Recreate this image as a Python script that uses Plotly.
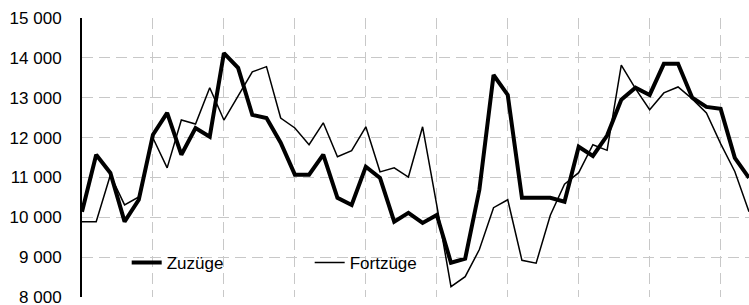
import plotly.graph_objects as go

# Data (48 periods)
periods = list(range(48))
zuzuege = [10140, 11570, 11110, 9890, 10440, 12070, 12620, 11570, 12240, 12020,
           14120, 13750, 12570, 12490, 11870, 11070, 11070, 11570, 10490, 10310,
           11270, 10990, 9890, 10110, 9860, 10060, 8860, 8960, 10690, 13570,
           13070, 10490, 10490, 10490, 10390, 11770, 11540, 12050, 12950, 13250,
           13070, 13850, 13850, 13000, 12770, 12720, 11490, 10990]
fortzuege = [9890, 9890, 11060, 10310, 10510, 11990, 11240, 12440, 12340, 13250,
             12440, 13050, 13650, 13780, 12490, 12240, 11820, 12370, 11520, 11670,
             12270, 11140, 11240, 11010, 12270, 10300, 8260, 8510, 9190, 10240,
             10440, 8920, 8850, 10050, 10830, 11120, 11820, 11680, 13820, 13230,
             12700, 13120, 13270, 12970, 12620, 11850, 11150, 10140]
y_tickvals = [8000, 9000, 10000, 11000, 12000, 13000, 14000, 15000]
y_ticktext = ["8 000", "9 000", "10 000", "11 000", "12 000", "13 000", "14 000", "15 000"]
x_gridvals = [5, 10, 15, 20, 25, 30, 35, 40, 45]

FONT = "Liberation Sans, Arial, sans-serif"

fig = go.Figure()
fig.add_trace(go.Scatter(x=periods, y=zuzuege, mode="lines", name="Zuzüge",
                         line=dict(color="#000000", width=4)))
fig.add_trace(go.Scatter(x=periods, y=fortzuege, mode="lines", name="Fortzüge",
                         line=dict(color="#000000", width=1.5)))

fig.update_layout(
    width=749, height=305,
    margin=dict(l=82, r=0, t=18, b=8, autoexpand=False),
    paper_bgcolor="white", plot_bgcolor="white",
    font=dict(family=FONT, size=17, color="black"),
    showlegend=True,
    legend=dict(orientation="h", x=0.067, xanchor="left", y=0.122, yanchor="middle",
                bgcolor="rgba(0,0,0,0)", font=dict(size=17),
                entrywidth=138, entrywidthmode="pixels", itemwidth=30),
)
fig.update_xaxes(range=[0, 47], tickvals=x_gridvals, showticklabels=False,
                 showgrid=True, gridcolor="#c8c8c8", gridwidth=1, griddash="11px,6px",
                 showline=True, linecolor="white", linewidth=1, zeroline=False, ticks="",
                 automargin=False)
fig.update_yaxes(range=[8000, 15000], tickvals=y_tickvals, ticktext=y_ticktext,
                 showgrid=True, gridcolor="#c8c8c8", gridwidth=1, griddash="11px,6px",
                 showline=True, linecolor="black", linewidth=2, zeroline=False,
                 ticks="", ticklabelstandoff=15, ticklabeloverflow="allow",
                 tickfont=dict(size=17, color="black"), automargin=False)

fig.write_html("out.html", config={"displayModeBar": False},
               post_script="document.body.style.margin='0';")
